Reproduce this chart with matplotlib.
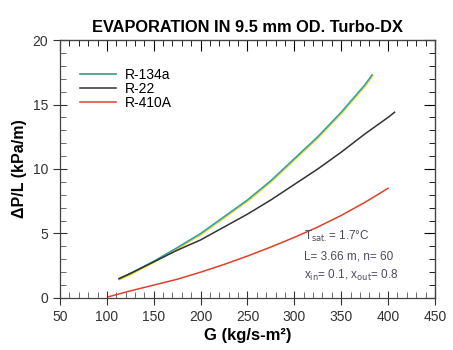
import numpy as np
import matplotlib.pyplot as plt
from matplotlib.transforms import offset_copy
from matplotlib.ticker import MultipleLocator

plt.rcParams['font.family'] = ['Liberation Sans', 'DejaVu Sans']

g_134a = [113, 125, 150, 175, 200, 225, 250, 275, 300, 325, 350, 375, 383]
dp_134a = [1.5, 1.9, 2.85, 3.9, 5.0, 6.3, 7.6, 9.1, 10.8, 12.5, 14.4, 16.5, 17.3]

g_22 = [113, 125, 150, 175, 200, 225, 250, 275, 300, 325, 350, 375, 400, 407]
dp_22 = [1.5, 1.9, 2.8, 3.7, 4.5, 5.5, 6.5, 7.6, 8.8, 10.0, 11.3, 12.7, 14.0, 14.4]

g_410a = [102, 125, 150, 175, 200, 225, 250, 275, 300, 325, 350, 375, 400]
dp_410a = [0.1, 0.55, 1.0, 1.45, 2.0, 2.6, 3.25, 3.95, 4.7, 5.5, 6.4, 7.4, 8.5]

fig = plt.figure(figsize=(4.53, 3.5), dpi=100)
ax = fig.add_axes([0.1325, 0.1486, 0.8275, 0.7371])

# R-134a: yellow under a teal line, shifted a hair
yel, = ax.plot(g_134a, dp_134a, color='#f2d21a', lw=1.3,
               transform=offset_copy(ax.transData, fig=fig, x=0.4, y=-0.6, units='points'))
teal, = ax.plot(g_134a, dp_134a, color='#2a9fb5', lw=1.1)
r22, = ax.plot(g_22, dp_22, color='#333333', lw=1.1)
r410, = ax.plot(g_410a, dp_410a, color='#e0402a', lw=1.1)

ax.legend([(yel, teal), r22, r410], ['R-134a', 'R-22', 'R-410A'],
          loc='upper left', bbox_to_anchor=(0.02, 0.94), frameon=False,
          fontsize=10, handlelength=2.6, labelspacing=0.0, handletextpad=0.6)

ax.set_xlim(50, 450)
ax.set_ylim(0, 20)
ax.xaxis.set_major_locator(MultipleLocator(50))
ax.xaxis.set_minor_locator(MultipleLocator(10))
ax.yaxis.set_major_locator(MultipleLocator(5))
ax.yaxis.set_minor_locator(MultipleLocator(1))
ax.tick_params(which='major', direction='inout', length=10, width=0.8, labelsize=10, colors='#333333')
ax.tick_params(which='minor', direction='in', length=4, width=0.6, colors='#555555')

top = ax.secondary_xaxis('top')
top.xaxis.set_major_locator(MultipleLocator(50))
top.xaxis.set_minor_locator(MultipleLocator(10))
top.tick_params(which='major', direction='in', length=8, width=0.8, labeltop=False)
top.tick_params(which='minor', direction='in', length=4, width=0.6)

right = ax.secondary_yaxis('right')
right.yaxis.set_major_locator(MultipleLocator(5))
right.yaxis.set_minor_locator(MultipleLocator(1))
right.tick_params(which='major', direction='in', length=8, width=0.8, labelright=False)
right.tick_params(which='minor', direction='in', length=4, width=0.6)

for s in ax.spines.values():
    s.set_color('#444444')
    s.set_linewidth(0.9)

ax.set_xlabel('G (kg/s-m²)', fontsize=12, fontweight='bold', labelpad=3)
ax.set_ylabel('ΔP/L (kPa/m)', fontsize=11.5, fontweight='bold', labelpad=4)
ax.set_title('EVAPORATION IN 9.5 mm OD. Turbo-DX', fontsize=11.8, fontweight='bold', pad=6)

ax.text(0.65, 0.225, 'T$_{\\rm sat.}$= 1.7°C', transform=ax.transAxes, fontsize=8.5, color='#4a4a60')
ax.text(0.65, 0.150, 'L= 3.66 m, n= 60', transform=ax.transAxes, fontsize=8.5, color='#4a4a60')
ax.text(0.65, 0.075, 'x$_{\\rm in}$= 0.1, x$_{\\rm out}$= 0.8', transform=ax.transAxes, fontsize=8.5, color='#4a4a60')

plt.savefig('out.png', dpi=100)
